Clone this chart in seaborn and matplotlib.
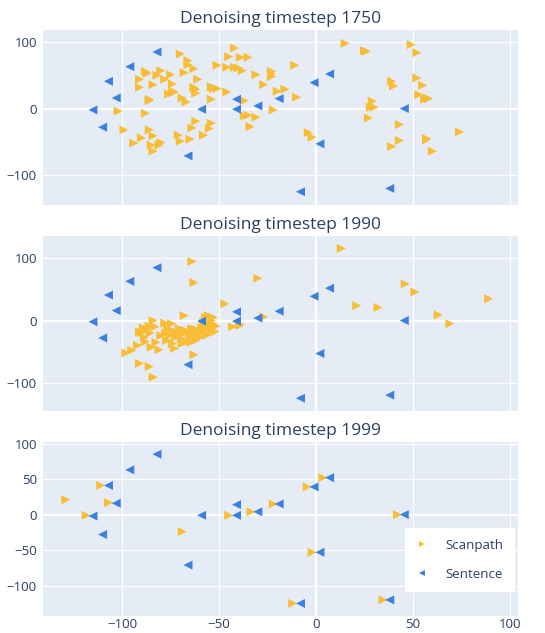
import numpy as np
import pandas as pd
import matplotlib
matplotlib.use("Agg")
import matplotlib.pyplot as plt
from matplotlib.lines import Line2D
import seaborn as sns

# Sentence embedding points (identical in every panel)
sent_x = [-115, -110, -107, -103, -96, -82, -66, -59, -41, -41, -30, -19, -8, -1, 2, 7, 38, 45.5]
sent_y = [-2, -28, 41, 16, 63, 85, -71, -1, 14, -1, 4, 15, -125, 39, -53, 52, -120, 0]

# Scanpath points, timestep 1750
scan_1750 = [
    (-102, -4), (-99, -32), (-94, -52), (-91, 44), (-91, 32), (-90, -44), (-88, 56), (-88, -7),
    (-87, 53), (-86, 14), (-86, 12), (-86, -32), (-85, -55), (-84, 36), (-84, -64), (-84, -41),
    (-82, 50), (-80, 57), (-81, -55), (-80, -51), (-78, 44), (-76, 22), (-75, 51), (-74, 37),
    (-74, 24), (-73, 25), (-71, -40), (-70, -49), (-70, 82), (-69, 16), (-68, 54), (-67, 10),
    (-66, 66), (-66, 72), (-65, -46), (-63, 60), (-64, -29), (-63, 32), (-62, 23), (-62, -19),
    (-62, 29), (-61, 44), (-58, -40), (-55, -30), (-54, 14), (-54, -22), (-54, 33), (-53, 30),
    (-51, 65), (-51, 30), (-46, 25), (-46, 62), (-45, 78), (-42, 91), (-42, 62), (-40, 61),
    (-39, 77), (-35, 77), (-38, 57), (-37, 12), (-37, -11), (-35, -10), (-34, -27), (-31, 51),
    (-31, -13), (-27, 36), (-23, 48), (-23, 56), (-23, 52), (-22, -2), (-20, 26), (-16, 29),
    (-11, 65), (-10, 17), (-4, -36), (-2, -43), (15, 98), (25, 87), (26, 86), (27, -14),
    (29, 11), (28, 2), (30, 2), (39, 41), (40, 34), (39, -57), (43, -24), (43, -48),
    (49, 96), (52, 84), (52, 46), (53, 21), (55, 35), (56, 14), (57, 16), (58, 15),
    (57, -45), (57, -47), (60, -64), (74, -35),
]

# Scanpath points, timestep 1990
scan_1990 = [
    (-98, -52), (-95, -48), (-92, -40), (-91, -69), (-91, -18), (-90, -20), (-89, -12), (-88.5, -27),
    (-88, -34), (-87.5, -14), (-86, -74), (-86, -9), (-85.5, -20), (-85, -43), (-84, -91), (-84, 0),
    (-83, -10), (-82.5, -35), (-81, -47), (-80, -24), (-78, -4), (-77.5, -20), (-77, -32), (-76.5, -13),
    (-75.5, -24), (-74.5, -5), (-74, -37), (-74, -16), (-73, -45), (-72.5, -27), (-72, -19), (-71, -23),
    (-70.5, -13), (-69.5, -29), (-69, -37), (-68.5, -21), (-68, 8), (-67.5, -16), (-66.5, -34), (-65.5, -19),
    (-65, -27), (-64.5, -35), (-64, -13), (-63.5, -23), (-63, -55), (-62, -32), (-62, -14), (-61, -21),
    (-60, -27), (-59, -12), (-58.5, -19), (-58, -3), (-57.5, -8), (-57, 5), (-56.5, -16), (-56.5, -24),
    (-56, -5), (-55.5, 8), (-55, -11), (-54.5, -19), (-54, 0), (-53.5, -5), (-53, 5), (-52.5, -8),
    (-52, -18), (-51.5, -9),
    (-64, 95), (-63, 61), (-47, 27), (-43, -10), (-39.5, -6), (-39, -7.5), (-30, 68), (-27, 6),
    (13, 116), (21, 24), (32, 21), (46, 59), (51, 46), (63, 9), (69, -5), (89, 35),
]

# Scanpath points, timestep 1999
scan_1999 = [
    (-129, 21), (-118.5, -1), (-111, 41), (-107, 17), (-69, -24), (-45, -1), (-33.5, 4),
    (-22, 15), (-12, -125), (-4.5, 39), (-2, -53), (3.5, 52), (34.5, -120), (42, 0),
]

titles = ["Denoising timestep 1750", "Denoising timestep 1990", "Denoising timestep 1999"]
scan_sets = [scan_1750, scan_1990, scan_1999]
y_limits = [(-145, 117.5), (-145, 136), (-143, 102)]
y_ticks = [[-100, 0, 100], [-100, 0, 100], [-100, -50, 0, 50, 100]]
x_ticks = [-100, -50, 0, 50, 100]

SCAN_COLOR = "#F8BC35"
SENT_COLOR = "#3A80E0"
TEXT_COLOR = "#2a3f5f"

sns.set_style("darkgrid", rc={"axes.facecolor": "#E5ECF6", "grid.color": "white",
                              "grid.linewidth": 0.8})
plt.rcParams["font.family"] = ["Open Sans", "DejaVu Sans"]

fig = plt.figure(figsize=(5.45, 6.33), dpi=100)
positions = [
    [0.078, 0.6760, 0.872, 0.2760],
    [0.078, 0.3512, 0.872, 0.2760],
    [0.078, 0.0265, 0.872, 0.2750],
]

for i, (pos, title, scan) in enumerate(zip(positions, titles, scan_sets)):
    ax = fig.add_axes(pos)
    sx, sy = zip(*scan)
    df = pd.DataFrame({
        "x": list(sx) + sent_x,
        "y": list(sy) + sent_y,
        "kind": ["Scanpath"] * len(sx) + ["Sentence"] * len(sent_x),
    })
    ax.axhline(0, color="white", lw=1.6, zorder=0.5)
    ax.axvline(0, color="white", lw=1.6, zorder=0.5)
    sns.scatterplot(data=df, x="x", y="y", hue="kind", style="kind",
                    markers={"Scanpath": ">", "Sentence": "<"},
                    palette={"Scanpath": SCAN_COLOR, "Sentence": SENT_COLOR},
                    s=42, linewidth=0, legend=False, ax=ax, zorder=3)
    ax.set_xlim(-141, 104)
    ax.set_ylim(*y_limits[i])
    ax.set_xticks(x_ticks)
    ax.set_yticks(y_ticks[i])
    ax.set_xlabel("")
    ax.set_ylabel("")
    ax.tick_params(axis="y", length=0, labelsize=9.5, colors=TEXT_COLOR, pad=4)
    ax.tick_params(axis="x", length=0, labelsize=9.5, colors=TEXT_COLOR, pad=1.5)
    if i < 2:
        ax.set_xticklabels([])
    for sp in ax.spines.values():
        sp.set_visible(False)
    ax.set_title(title, fontsize=12.5, color=TEXT_COLOR, pad=5)

    if i == 2:
        handles = [
            Line2D([], [], ls="", marker=">", color=SCAN_COLOR, markersize=5, markeredgewidth=0),
            Line2D([], [], ls="", marker="<", color=SENT_COLOR, markersize=5, markeredgewidth=0),
        ]
        leg = ax.legend(handles, ["Scanpath", "Sentence"], loc="upper right",
                        bbox_to_anchor=(0.993, 0.505), frameon=True, fancybox=False,
                        framealpha=1, edgecolor="white", facecolor="white",
                        fontsize=9.5, labelspacing=1.2, handlelength=1.0,
                        handletextpad=1.3, borderpad=0.8, borderaxespad=0)
        for t in leg.get_texts():
            t.set_color(TEXT_COLOR)

fig.savefig("out.png", dpi=100)
